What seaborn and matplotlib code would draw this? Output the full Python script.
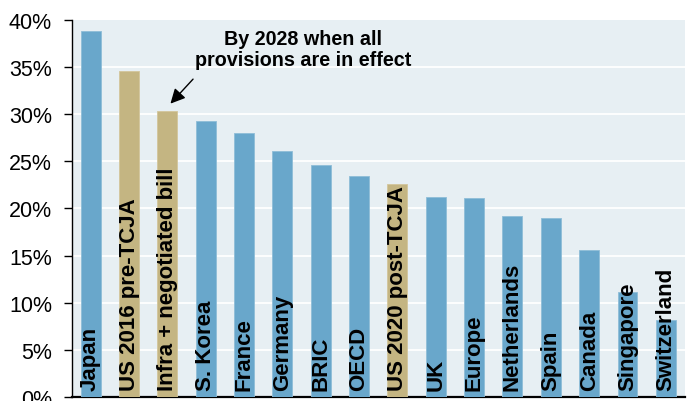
import matplotlib
matplotlib.use("Agg")
import matplotlib.pyplot as plt
import seaborn as sns
import pandas as pd
from matplotlib.ticker import FuncFormatter

countries = ["Japan", "US 2016 pre-TCJA", "Infra + negotiated bill", "S. Korea", "France",
             "Germany", "BRIC", "OECD", "US 2020 post-TCJA", "UK", "Europe", "Netherlands",
             "Spain", "Canada", "Singapore", "Switzerland"]
rates = [38.8, 34.6, 30.3, 29.3, 28.0, 26.1, 24.6, 23.4, 22.6, 21.2, 21.1, 19.2,
         19.0, 15.6, 11.1, 8.2]
is_us = [False, True, True, False, False, False, False, False, True, False, False, False,
         False, False, False, False]
yticks = [0, 5, 10, 15, 20, 25, 30, 35, 40]
note = "By 2028 when all\nprovisions are in effect"

sns.set_theme(style="white")
plt.rcParams["font.family"] = ["Liberation Sans", "DejaVu Sans"]

blue = "#69a7cb"
tan = "#c4b582"
df = pd.DataFrame({"country": countries, "rate": rates})
palette = {c: (tan if u else blue) for c, u in zip(countries, is_us)}

fig = plt.figure(figsize=(6.9, 4.02), dpi=100)
ax = fig.add_axes([71.5 / 690, 4 / 402, 613.5 / 690, 377.3 / 402])
ax.set_facecolor("#e7eff3")

sns.barplot(data=df, x="country", y="rate", hue="country", palette=palette,
            width=0.52, legend=False, ax=ax, zorder=3, saturation=1,
            edgecolor="#8fbdd8", linewidth=0.6)
for patch, u in zip(ax.patches, is_us):
    if u:
        patch.set_edgecolor("#d3c69b")

ax.set_xlim(-0.5, len(countries) - 0.5)
ax.set_ylim(0, 40)
ax.set_yticks(yticks)
ax.yaxis.set_major_formatter(FuncFormatter(lambda v, p: f"{v:.0f}%"))
for y in yticks[1:-1]:
    ax.axhline(y, color="white", lw=1.3, zorder=1)

ax.set_xticks([])
ax.set_xlabel("")
ax.set_ylabel("")
for s in ["top", "right"]:
    ax.spines[s].set_visible(False)
ax.spines["left"].set_color("black")
ax.spines["left"].set_linewidth(1.0)
ax.spines["bottom"].set_color("black")
ax.spines["bottom"].set_linewidth(1.6)
ax.tick_params(axis="y", which="major", left=True, length=6, width=1, color="black",
               direction="out", pad=8, labelsize=15.5, labelcolor="black")

for i, name in enumerate(countries):
    ax.text(i, 0.7, name, rotation=90, ha="center", va="bottom",
            fontsize=16, fontweight="bold", color="black", zorder=5)

ax.text(5.55, 36.9, note, ha="center", va="center", fontsize=14.2,
        fontweight="bold", color="black", linespacing=1.12, zorder=5)
ax.annotate("", xy=(2.08, 31.1), xytext=(2.67, 33.7),
            arrowprops=dict(arrowstyle="-|>", color="black", lw=1.0,
                            mutation_scale=22, shrinkA=0, shrinkB=0), zorder=5)

fig.savefig("out.png", dpi=100)
